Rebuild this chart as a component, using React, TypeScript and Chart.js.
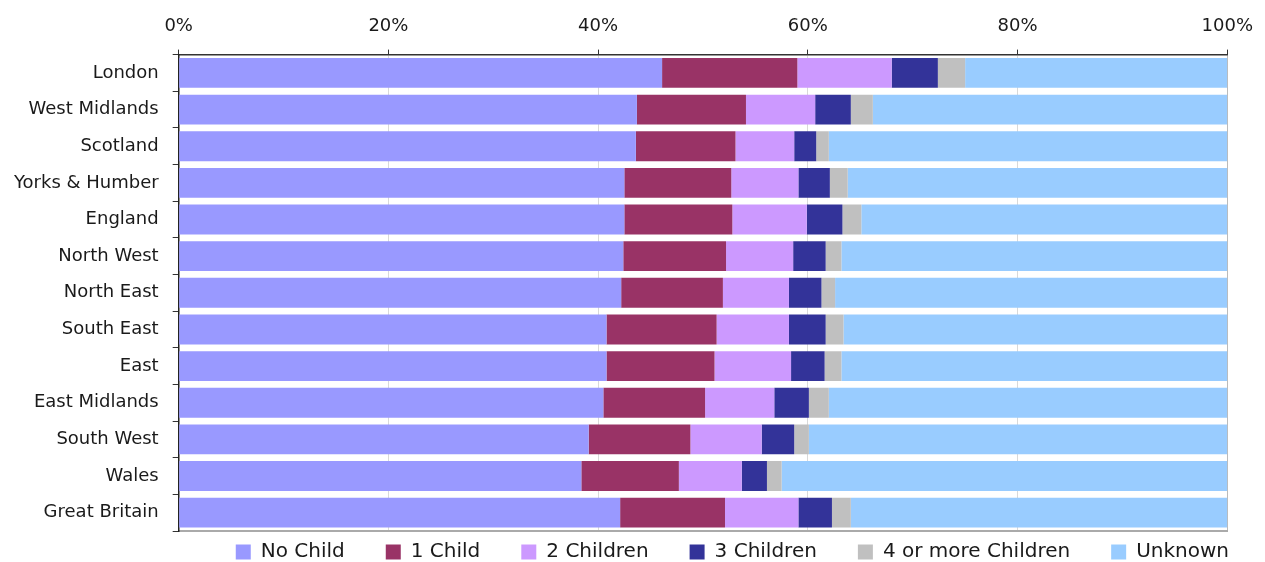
import React, { useEffect, useRef } from "react";
import { Chart, registerables } from "chart.js";

Chart.register(...registerables);

const categories = [
  "London",
  "West Midlands",
  "Scotland",
  "Yorks & Humber",
  "England",
  "North West",
  "North East",
  "South East",
  "East",
  "East Midlands",
  "South West",
  "Wales",
  "Great Britain",
];

const noChild = [46.1, 43.7, 43.6, 42.5, 42.5, 42.4, 42.2, 40.8, 40.8, 40.5, 39.1, 38.4, 42.1];
const oneChild = [12.9, 10.4, 9.5, 10.2, 10.3, 9.8, 9.7, 10.5, 10.3, 9.7, 9.7, 9.3, 10.0];
const twoChildren = [9.0, 6.6, 5.6, 6.4, 7.1, 6.4, 6.3, 6.9, 7.3, 6.6, 6.8, 6.0, 7.0];
const threeChildren = [4.4, 3.4, 2.1, 3.0, 3.4, 3.1, 3.1, 3.5, 3.2, 3.3, 3.1, 2.4, 3.2];
const fourPlus = [2.6, 2.1, 1.2, 1.7, 1.8, 1.5, 1.3, 1.7, 1.6, 1.9, 1.4, 1.4, 1.8];
const unknown = [25.0, 33.8, 38.0, 36.2, 34.9, 36.8, 37.4, 36.6, 36.8, 38.0, 39.9, 42.5, 35.9];

const seriesNames = ["No Child", "1 Child", "2 Children", "3 Children", "4 or more Children", "Unknown"];
const seriesColors = ["#9999FF", "#993366", "#CC99FF", "#333399", "#C0C0C0", "#99CCFF"];
const xTicks = [0, 20, 40, 60, 80, 100];

export default function App() {
  const canvasRef = useRef<HTMLCanvasElement | null>(null);

  useEffect(() => {
    if (!canvasRef.current) return;
    const seriesValues = [noChild, oneChild, twoChildren, threeChildren, fourPlus, unknown];
    const legendShift = {
      id: "legendShift",
      afterLayout(chart: any) {
        const lg = chart.legend;
        if (lg) {
          lg.top = chart.height - 61;
          lg.height = 61;
          lg.bottom = chart.height;
          lg.left = 0;
          lg.right = chart.width + 5;
          lg.width = lg.right - lg.left;
        }
      },
    };
    const chart = new Chart(canvasRef.current, {
      type: "bar",
      data: {
        labels: categories,
        datasets: seriesValues.map((vals, i) => ({
          label: seriesNames[i],
          data: vals,
          backgroundColor: seriesColors[i],
          borderWidth: 0,
          categoryPercentage: 1,
          barPercentage: 0.815,
          xAxisID: "x",
        })),
      },
      options: {
        indexAxis: "y",
        animation: false,
        responsive: true,
        maintainAspectRatio: false,
        layout: { padding: { left: 0, right: 37, top: 4, bottom: 0 } },
        plugins: {
          tooltip: { enabled: false },
          legend: {
            position: "bottom",
            align: "end",
            maxHeight: 31,
            labels: {
              boxWidth: 15,
              boxHeight: 15,
              padding: 41,
              color: "#1a1a1a",
              font: { family: "DejaVu Sans", size: 20 },
            },
          },
        },
        scales: {
          x: {
            type: "linear",
            position: "top",
            stacked: true,
            min: 0,
            max: 100,
            afterBuildTicks: (axis: any) => {
              axis.ticks = xTicks.map((v) => ({ value: v }));
            },
            ticks: {
              padding: 12,
              color: "#1a1a1a",
              font: { family: "DejaVu Sans", size: 18 },
              callback: (v: any) => v + "%",
            },
            grid: {
              color: (ctx: any) => (ctx.tick && ctx.tick.value === 100 ? "#bbbbbb" : "#d9d9d9"),
              tickColor: "#333333",
              tickLength: 5,
            },
            border: { color: "#333333", width: 1.5 },
          },
          x2: {
            type: "linear",
            position: "bottom",
            min: 0,
            max: 100,
            ticks: { display: false },
            grid: { display: false, drawTicks: false, tickLength: 0 },
            border: { display: true, color: "#aaaaaa", width: 2 },
          },
          y: {
            stacked: true,
            ticks: {
              padding: 14,
              color: "#1a1a1a",
              font: { family: "DejaVu Sans", size: 18 },
            },
            grid: {
              drawOnChartArea: false,
              tickLength: 6,
              tickColor: "#333333",
            },
            border: { color: "#222222", width: 1.5 },
          },
        },
      },
      plugins: [legendShift],
    } as any);
    return () => chart.destroy();
  }, []);

  return (
    <div style={{ position: "fixed", left: 0, top: 0, width: 1265, height: 562, background: "#ffffff" }}>
      <canvas ref={canvasRef} />
    </div>
  );
}
